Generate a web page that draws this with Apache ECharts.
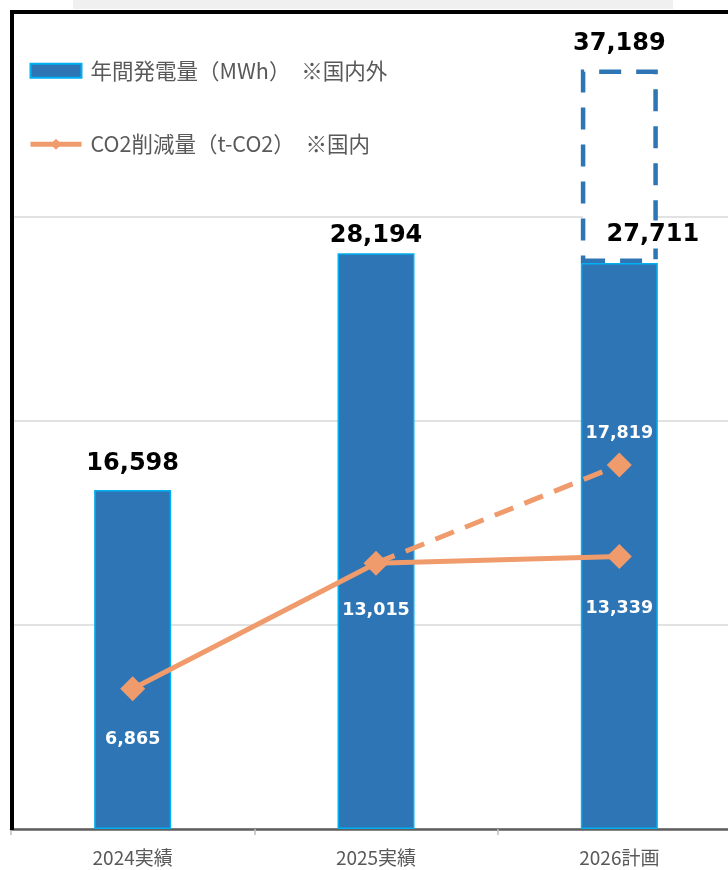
<!DOCTYPE html>
<html>
<head>
<meta charset="utf-8">
<script src="https://cdn.jsdelivr.net/npm/echarts@6/dist/echarts.min.js"></script>
<style>
html,body{margin:0;padding:0;background:#fff;overflow:hidden;width:728px;height:870px;}
#chart{width:760px;height:870px;}
</style>
</head>
<body>
<div id="chart"></div>
<script>
// ---- data ----
const categories = ['2024実績', '2025実績', '2026計画'];
const generation = [16598, 28194, 27711];          // 年間発電量（MWh）
const generationPlanTotal = [null, null, 37189];   // 計画（点線枠）
const co2Reduction = [6865, 13015, 13339];         // CO2削減量（t-CO2）
const co2ReductionPlan = [null, 13015, 17819];     // 計画（点線）
const yTicks = [0, 10000, 20000, 30000, 40000];

const genName = '年間発電量（MWh）　※国内外';
const co2Name = 'CO2削減量（t-CO2）　※国内';

const fmt = v => Number(v).toLocaleString('en-US');
const BLUE = '#2E75B6', CYAN = '#00B0F0', ORANGE = '#F09B6C';
const numFont = '"DejaVu Sans", Verdana, sans-serif';
const jpFont = '"Noto Sans CJK JP", sans-serif';

const barLabelDist = [14.5, 5.5, 16.5];
const genData = generation.map((v, i) => {
  const item = { value: v, label: { distance: barLabelDist[i] } };
  if (i === 2) {
    item.label = {
      distance: 14.5, offset: [46, 0],
      backgroundColor: '#fff', padding: [2, 27, 2, 2]
    };
  }
  return item;
});
const planExtra = generationPlanTotal.map((t, i) => t == null ? '-' : t - generation[i]);

const co2Offsets = [51, 47.5, 52];
const co2Data = co2Reduction.map((v, i) => ({ value: v, label: { offset: [0, co2Offsets[i]] } }));
const co2PlanData = co2ReductionPlan.map((v, i) => {
  if (v == null) return '-';
  if (i === 1) return { value: v, symbol: 'none', label: { show: false } };
  return { value: v, label: { show: true, offset: [0, -32] } };
});

const chart = echarts.init(document.getElementById('chart'), null, { renderer: 'canvas' });
chart.setOption({
  animation: false,
  backgroundColor: '#fff',
  grid: { left: 11, top: 12, width: 730, height: 817, containLabel: false },
  legend: {
    data: [
      { name: genName, icon: 'rect' },
      { name: co2Name }
    ],
    orient: 'vertical',
    left: 23, top: 55,
    itemWidth: 51, itemHeight: 14, itemGap: 52,
    lineStyle: { width: 5 },
    textStyle: { color: '#595959', fontSize: 21.5, fontFamily: jpFont, padding: [0, 0, 0, 4] }
  },
  xAxis: {
    type: 'category', data: categories,
    axisLine: { show: true, lineStyle: { color: '#5f5f5f', width: 2.5 } },
    axisTick: { show: true, alignWithLabel: false, length: 6, lineStyle: { color: '#bfbfbf', width: 1.5 } },
    axisLabel: { color: '#595959', fontSize: 19, fontFamily: jpFont, margin: 19 }
  },
  yAxis: {
    type: 'value', min: yTicks[0], max: yTicks[yTicks.length - 1], interval: yTicks[1] - yTicks[0],
    axisLabel: { show: false }, axisLine: { show: false }, axisTick: { show: false },
    splitLine: { lineStyle: { color: '#d9d9d9', width: 1.5 } }
  },
  series: [
    {
      name: genName, type: 'bar', stack: 'gen', barWidth: 77, data: genData, z: 2,
      itemStyle: { color: BLUE, borderColor: CYAN, borderWidth: 1.5 },
      label: {
        show: true, position: 'top', color: '#000', fontWeight: 'bold',
        fontSize: 24, fontFamily: numFont, formatter: p => fmt(p.value)
      }
    },
    {
      name: 'plan', type: 'bar', stack: 'gen', barWidth: 77, data: planExtra, z: 2,
      itemStyle: { color: '#fff', borderColor: BLUE, borderWidth: 4.5, borderType: [22, 15] },
      label: {
        show: true, position: 'top', distance: 14, color: '#000', fontWeight: 'bold',
        fontSize: 24, fontFamily: numFont, formatter: p => fmt(generationPlanTotal[p.dataIndex])
      }
    },
    {
      name: co2Name, type: 'line', data: co2Data, z: 5,
      symbol: 'diamond', symbolSize: 25,
      lineStyle: { color: ORANGE, width: 5 },
      itemStyle: { color: ORANGE },
      label: {
        show: true, position: 'inside', color: '#fff', fontWeight: 'bold',
        fontSize: 17.5, fontFamily: numFont, formatter: p => fmt(p.value)
      }
    },
    {
      name: 'co2plan', type: 'line', data: co2PlanData, z: 4,
      symbol: 'diamond', symbolSize: 25, showAllSymbol: true,
      lineStyle: { color: ORANGE, width: 5, type: [20, 12] },
      itemStyle: { color: ORANGE },
      label: {
        show: true, position: 'inside', color: '#fff', fontWeight: 'bold',
        fontSize: 17.5, fontFamily: numFont, formatter: p => fmt(p.value)
      }
    }
  ],
  graphic: [
    { type: 'rect', shape: { x: 73, y: 0, width: 600, height: 9 }, style: { fill: '#f0f0f0' }, z: 100 },
    { type: 'rect', shape: { x: 10, y: 10, width: 750, height: 4 }, style: { fill: '#000' }, z: 100 },
    { type: 'rect', shape: { x: 10, y: 10, width: 4, height: 820 }, style: { fill: '#000' }, z: 100 }
  ]
});
</script>
</body>
</html>
